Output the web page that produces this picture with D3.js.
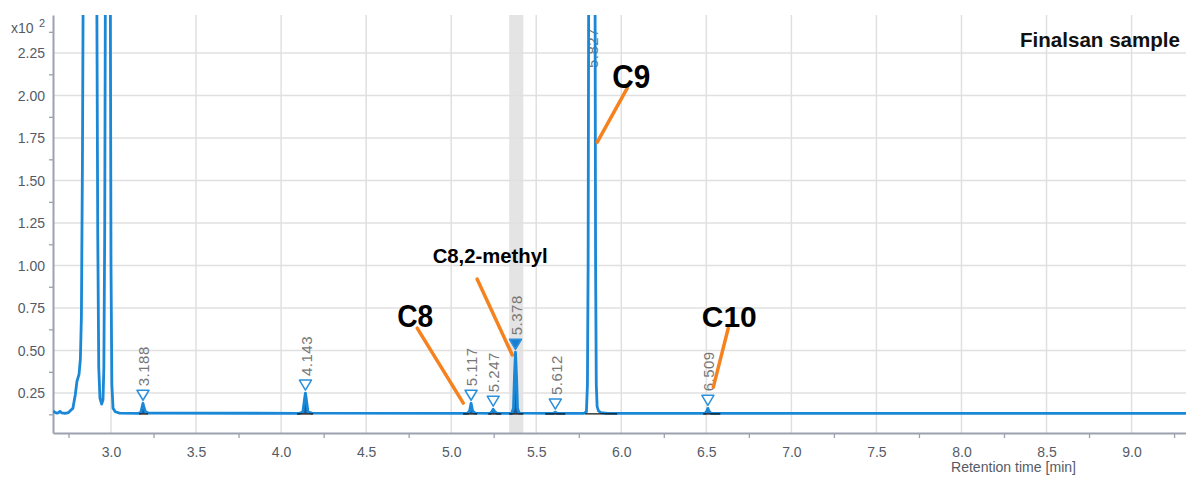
<!DOCTYPE html>
<html lang="en">
<head>
<meta charset="UTF-8"/>
<title>Finalsan sample chromatogram</title>
<script src="https://d3js.org/d3.v7.min.js"></script>
<style>
  body { margin: 0; background: #fff; }
  text { font-family: Arial, "Liberation Sans", sans-serif; }
</style>
</head>
<body>
<script>
    // chromatogram trace (retention time in min, signal in x10^2)
    var traceTime = [
        2.660, 2.670, 2.680, 2.690, 2.700, 2.710, 2.730, 2.750, 2.765, 2.776,
        2.790, 2.800, 2.812, 2.820, 2.826, 2.832, 2.838, 2.915, 2.922, 2.928,
        2.935, 2.945, 2.953, 2.958, 2.963, 2.968, 2.995, 3.000, 3.005, 3.012,
        3.025, 3.050, 3.160, 3.175, 3.182, 3.188, 3.194, 3.202, 3.220, 4.110,
        4.128, 4.136, 4.143, 4.150, 4.158, 4.180, 5.095, 5.108, 5.117, 5.126,
        5.140, 5.230, 5.240, 5.247, 5.255, 5.270, 5.355, 5.366, 5.372, 5.378,
        5.384, 5.390, 5.400, 5.600, 5.612, 5.625, 5.780, 5.795, 5.801, 5.805,
        5.809, 5.845, 5.849, 5.853, 5.858, 5.866, 5.880, 5.920, 6.490, 6.502,
        6.509, 6.516, 6.530, 9.320
    ];
    var traceSignal = [
        0.143, 0.137, 0.132, 0.134, 0.142, 0.133, 0.131, 0.135, 0.150, 0.160,
        0.240, 0.320, 0.360, 0.450, 0.700, 1.600, 3.000, 3.000, 1.200, 0.400,
        0.220, 0.185, 0.210, 0.400, 1.200, 3.000, 3.000, 1.000, 0.300, 0.160,
        0.140, 0.132, 0.130, 0.135, 0.165, 0.190, 0.165, 0.140, 0.132, 0.131,
        0.140, 0.200, 0.250, 0.200, 0.140, 0.132, 0.130, 0.145, 0.190, 0.145,
        0.132, 0.131, 0.142, 0.155, 0.142, 0.131, 0.130, 0.160, 0.350, 0.490,
        0.350, 0.160, 0.132, 0.130, 0.138, 0.130, 0.130, 0.140, 0.300, 1.000,
        3.000, 3.000, 1.000, 0.300, 0.170, 0.145, 0.135, 0.130, 0.130, 0.142,
        0.160, 0.142, 0.130, 0.130
    ];

    // integrated peaks
    var peakRT    = ["3.188", "4.143", "5.117", "5.247", "5.378", "5.612", "5.827", "6.509"];
    var peakStart = [3.165, 4.094, 5.070, 5.218, 5.341, 5.553, 5.788, 6.482];
    var peakEnd   = [3.218, 4.188, 5.153, 5.294, 5.424, 5.671, 5.976, 6.582];
    var peakApex  = [0.190, 0.250, 0.190, 0.155, 0.490, 0.138, 3.000, 0.160];
    var selectedPeak = "5.378";
    var baselineLevel = 0.13;

    // axis ticks
    var timeTicks = [3.0, 3.5, 4.0, 4.5, 5.0, 5.5, 6.0, 6.5, 7.0, 7.5, 8.0, 8.5, 9.0];
    var timeMinor = [2.75, 3.25, 3.75, 4.25, 4.75, 5.25, 5.75, 6.25, 6.75, 7.25, 7.75, 8.25, 8.75, 9.25];
    var signalTicks = [0.25, 0.50, 0.75, 1.00, 1.25, 1.50, 1.75, 2.00, 2.25];
    var signalMinor = [0.125, 0.375, 0.625, 0.875, 1.125, 1.375, 1.625, 1.875, 2.125, 2.375];

    // compound call-outs: label, text anchor (t, v), pointer start and tip (t, v)
    var calloutLabel = ["C8", "C8,2-methyl", "C9", "C10"];
    var calloutTextT = [4.788, 5.229, 6.059, 6.635];
    var calloutTextV = [0.638, 1.015, 2.044, 0.638];
    var calloutFromT = [4.800, 5.153, 6.035, 6.629];
    var calloutFromV = [0.632, 0.920, 2.044, 0.632];
    var calloutTipT  = [5.071, 5.359, 5.859, 6.541];
    var calloutTipV  = [0.191, 0.474, 1.726, 0.285];

    var w = 1186, h = 477;
    var padL = 53, padR = 1186, padT = 15, padB = 433;
    var axisGrey = "#9ba1ae", labelGrey = "#555b66";
    var calloutSize  = [31, 20, 34, 29];
    var calloutWidth = [36, 115, 38, 55];

    var trace = traceTime.map(function(t, i) { return [t, traceSignal[i]]; });

    var x = d3.scaleLinear().domain([2.659, 9.32]).range([padL, padR]);
    var y = d3.scaleLinear().domain([0.015, 2.474]).range([padB, padT]);

    var svg = d3.select("body").append("svg")
        .attr("width", w)
        .attr("height", h);

    svg.append("defs").append("clipPath").attr("id", "plot")
        .append("rect")
        .attr("x", padL).attr("y", padT)
        .attr("width", padR - padL).attr("height", padB - padT);

    // selected peak band
    var si = peakRT.indexOf(selectedPeak);
    svg.append("rect")
        .attr("x", x(peakStart[si]))
        .attr("y", padT)
        .attr("width", x(peakEnd[si]) - x(peakStart[si]))
        .attr("height", padB - padT)
        .attr("fill", "#e4e4e4");

    // grid
    svg.append("g").selectAll("line")
        .data(timeTicks).enter().append("line")
        .attr("x1", function(d) { return x(d); })
        .attr("x2", function(d) { return x(d); })
        .attr("y1", padT).attr("y2", padB)
        .attr("stroke", "#e0e0e0").attr("stroke-width", 1.5);

    svg.append("g").selectAll("line")
        .data(signalTicks).enter().append("line")
        .attr("x1", padL).attr("x2", padR)
        .attr("y1", function(d) { return y(d); })
        .attr("y2", function(d) { return y(d); })
        .attr("stroke", "#e0e0e0").attr("stroke-width", 1.5);

    // axes
    svg.append("g")
        .attr("transform", "translate(0," + padB + ")")
        .call(d3.axisBottom(x).tickValues(timeTicks).tickSize(0).tickPadding(14)
            .tickFormat(d3.format(".1f")));
    svg.append("g")
        .attr("transform", "translate(0," + padB + ")")
        .call(d3.axisBottom(x).tickValues(timeMinor).tickSize(5).tickSizeOuter(0).tickFormat(""))
        .call(function(g) { g.select(".domain").remove(); });

    svg.append("g")
        .attr("transform", "translate(" + padL + ",0)")
        .call(d3.axisLeft(y).tickValues(signalTicks).tickSize(0).tickPadding(8)
            .tickFormat(d3.format(".2f")));
    svg.append("g")
        .attr("transform", "translate(" + padL + ",0)")
        .call(d3.axisLeft(y).tickValues(signalMinor).tickSize(4).tickSizeOuter(0).tickFormat(""))
        .call(function(g) { g.select(".domain").remove(); });

    svg.selectAll(".domain").attr("stroke", axisGrey).attr("stroke-width", 2);
    svg.selectAll(".tick line").attr("stroke", axisGrey).attr("stroke-width", 1.3);
    svg.selectAll(".tick text")
        .attr("font-size", 14)
        .attr("font-family", "Arial, 'Liberation Sans', sans-serif")
        .attr("fill", labelGrey);

    // exponent label
    svg.append("text")
        .attr("x", 11).attr("y", 33)
        .attr("font-size", 14).attr("fill", labelGrey)
        .text("x10");
    svg.append("text")
        .attr("x", 39).attr("y", 27)
        .attr("font-size", 11).attr("fill", labelGrey)
        .text("2");

    svg.append("text")
        .attr("x", 1076).attr("y", 472)
        .attr("text-anchor", "end")
        .attr("font-size", 14).attr("fill", labelGrey)
        .attr("textLength", 125).attr("lengthAdjust", "spacingAndGlyphs")
        .text("Retention time [min]");

    var plot = svg.append("g").attr("clip-path", "url(#plot)");

    // peak labels (drawn under the trace)
    peakRT.forEach(function(rt, i) {
        var px = x(+rt);
        var tip = y(peakApex[i]) - 3;
        var onScale = peakApex[i] < y.domain()[1];
        var labelY = onScale ? tip - 14 : padT + 53;
        plot.append("text")
            .attr("transform", "translate(" + (px + 1) + "," + labelY + ") rotate(-90)")
            .attr("dy", "0.35em")
            .attr("font-size", 15)
            .attr("letter-spacing", 0.5)
            .attr("fill", "#777")
            .text(rt);
    });

    // peak fills
    var area = d3.area()
        .x(function(d) { return x(d[0]); })
        .y0(y(baselineLevel))
        .y1(function(d) { return y(d[1]); });
    peakRT.forEach(function(rt, i) {
        if (peakApex[i] >= y.domain()[1]) return;
        var pts = trace.filter(function(d) { return d[0] >= peakStart[i] && d[0] <= peakEnd[i]; });
        plot.append("path")
            .datum(pts)
            .attr("d", area)
            .attr("fill", "#1b5a98");
    });

    // trace
    var line = d3.line()
        .x(function(d) { return x(d[0]); })
        .y(function(d) { return y(d[1]); });
    plot.append("path")
        .datum(trace)
        .attr("d", line)
        .attr("fill", "none")
        .attr("stroke", "#1a88d6")
        .attr("stroke-width", 2.8)
        .attr("stroke-linejoin", "round");

    // integration baselines
    peakRT.forEach(function(rt, i) {
        plot.append("line")
            .attr("x1", x(peakStart[i])).attr("x2", x(peakEnd[i]))
            .attr("y1", y(baselineLevel) + 0.5).attr("y2", y(baselineLevel) + 0.5)
            .attr("stroke", "#111").attr("stroke-width", 1.3);
    });

    // peak markers
    peakRT.forEach(function(rt, i) {
        if (peakApex[i] >= y.domain()[1]) return;
        var px = x(+rt);
        var tip = y(peakApex[i]) - 3;
        var sel = rt === selectedPeak;
        plot.append("path")
            .attr("d", "M" + (px - 6) + "," + (tip - 10) + "L" + (px + 6) + "," + (tip - 10) + "L" + px + "," + tip + "Z")
            .attr("fill", sel ? "#1a7fd0" : "#fff")
            .attr("stroke", "#2c8fdb")
            .attr("stroke-width", 1.5)
            .attr("stroke-linejoin", "round");
    });

    // call-outs
    calloutLabel.forEach(function(lab, i) {
        svg.append("line")
            .attr("x1", x(calloutFromT[i])).attr("y1", y(calloutFromV[i]))
            .attr("x2", x(calloutTipT[i])).attr("y2", y(calloutTipV[i]))
            .attr("stroke", "#f5821f")
            .attr("stroke-width", 3.5)
            .attr("stroke-linecap", "round");
        svg.append("text")
            .attr("x", x(calloutTextT[i]) - calloutWidth[i] / 2)
            .attr("y", y(calloutTextV[i]))
            .attr("font-size", calloutSize[i])
            .attr("font-weight", "bold")
            .attr("fill", "#000")
            .attr("textLength", calloutWidth[i])
            .attr("lengthAdjust", "spacingAndGlyphs")
            .text(lab);
    });

    svg.append("text")
        .attr("x", 1180).attr("y", 47)
        .attr("text-anchor", "end")
        .attr("font-size", 20)
        .attr("font-weight", "bold")
        .attr("fill", "#111")
        .attr("textLength", 160).attr("lengthAdjust", "spacingAndGlyphs")
        .text("Finalsan sample");
</script>
</body>
</html>
